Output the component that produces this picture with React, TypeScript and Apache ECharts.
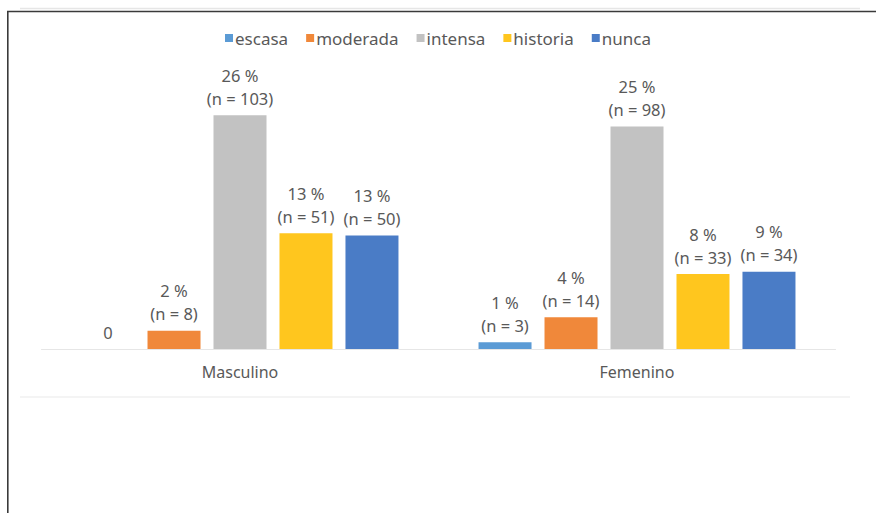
import React, { useEffect, useRef } from "react";
import * as echarts from "echarts";

const categories = ["Masculino", "Femenino"];
const seriesNames = ["escasa", "moderada", "intensa", "historia", "nunca"];
const counts = [
  [0, 3],
  [8, 14],
  [103, 98],
  [51, 33],
  [50, 34],
];
const percents = [
  [0, 1],
  [2, 4],
  [26, 25],
  [13, 8],
  [13, 9],
];
const colors = ["#5B9BD5", "#F0883A", "#C2C2C2", "#FFC61E", "#4A7CC6"];

export default function App() {
  const ref = useRef<HTMLDivElement>(null);
  useEffect(() => {
    const chart = echarts.init(ref.current!, null, { renderer: "svg" });
    const font = "'Noto Sans', 'Open Sans', sans-serif";
    chart.setOption({
      animation: false,
      backgroundColor: "#ffffff",
      textStyle: { fontFamily: font },
      legend: {
        top: 24.5,
        left: "center",
        itemWidth: 8,
        itemHeight: 8,
        itemGap: 18,
        icon: "rect",
        textStyle: { color: "#595959", fontSize: 17, fontFamily: font, padding: [0, 0, 0, -3] },
        data: seriesNames,
      },
      grid: { left: 41.5, right: 40.5, top: 76.6, bottom: 164, containLabel: false },
      xAxis: {
        type: "category",
        data: categories,
        axisLine: { lineStyle: { color: "#E6E6E6", width: 1 } },
        axisTick: { show: false },
        axisLabel: { color: "#595959", fontSize: 16, margin: 15, fontFamily: font },
      },
      yAxis: {
        type: "value",
        min: 0,
        max: 120,
        show: false,
        splitLine: { show: false },
      },
      series: seriesNames.map((name, i) => ({
        name,
        type: "bar",
        barWidth: 53,
        barGap: "24.5%",
        itemStyle: { color: colors[i] },
        data: counts[i].map((v) => v),
        label: {
          show: true,
          position: "top",
          distance: 5.5,
          color: "#595959",
          fontSize: 16.5,
          lineHeight: 23,
          fontFamily: font,
          formatter: (p: any) =>
            p.value === 0 ? "0" : `${percents[i][p.dataIndex]} %\n(n = ${p.value})`,
        },
      })),
      graphic: [
        { type: "line", shape: { x1: 20, y1: 8.5, x2: 860, y2: 8.5 }, style: { stroke: "#E6E6E6", lineWidth: 1.5 } },
        { type: "line", shape: { x1: 20, y1: 397, x2: 850, y2: 397 }, style: { stroke: "#F0F0F0", lineWidth: 1.5 } },
        { type: "line", shape: { x1: 7.8, y1: 11, x2: 7.8, y2: 513 }, style: { stroke: "#3A3A3A", lineWidth: 1.6 } },
        { type: "line", shape: { x1: 7, y1: 11.5, x2: 876, y2: 11.5 }, style: { stroke: "#3A3A3A", lineWidth: 1.6 } },
      ],
    });
    return () => chart.dispose();
  }, []);
  return (
    <div
      ref={ref}
      style={{ position: "fixed", left: 0, top: 0, width: 876, height: 513 }}
    />
  );
}
